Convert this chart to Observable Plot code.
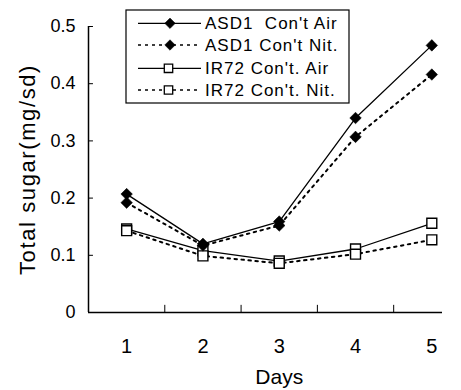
<!DOCTYPE html>
<html>
<head>
<meta charset="utf-8">
<script src="https://cdn.jsdelivr.net/npm/d3@7"></script>
<script src="https://cdn.jsdelivr.net/npm/@observablehq/plot@0.6"></script>
<style>
  html, body { margin: 0; padding: 0; background: #fff; }
  #chart { width: 461px; height: 390px; position: relative; }
</style>
</head>
<body>
<div id="chart"></div>
<script>
const days = [1, 2, 3, 4, 5];
const asd1Air = [0.207, 0.120, 0.159, 0.340, 0.467];
const asd1Nit = [0.192, 0.117, 0.152, 0.307, 0.416];
const ir72Air = [0.146, 0.108, 0.090, 0.111, 0.156];
const ir72Nit = [0.143, 0.099, 0.086, 0.102, 0.127];
const seriesNames = ["ASD1  Con't Air", "ASD1 Con't Nit.", "IR72 Con't. Air", "IR72 Con't. Nit."];
const yTicks = [0, 0.1, 0.2, 0.3, 0.4, 0.5];
const xBoundaryTicks = [1.5, 2.5, 3.5, 4.5];

const seriesDefs = [
  {name: seriesNames[0], values: asd1Air, dashed: false, symbol: "diamond2", fill: "black"},
  {name: seriesNames[1], values: asd1Nit, dashed: true, symbol: "diamond2", fill: "black"},
  {name: seriesNames[2], values: ir72Air, dashed: false, symbol: "square", fill: "white"},
  {name: seriesNames[3], values: ir72Nit, dashed: true, symbol: "square", fill: "white"}
];
const table = seriesDefs.map(s => days.map((d, i) => ({day: d, value: s.values[i], series: s.name})));

const FONT = "'Liberation Sans', Arial, Helvetica, sans-serif";
const marks = [];
seriesDefs.forEach((s, k) => {
  marks.push(Plot.line(table[k], {
    x: "day", y: "value", stroke: "black",
    strokeWidth: s.dashed ? 2 : 1.3,
    strokeDasharray: s.dashed ? "2.5,4.5" : null
  }));
});
[2, 3, 0, 1].forEach(k => {
  const s = seriesDefs[k];
  marks.push(Plot.dot(table[k], {
    x: "day", y: "value", symbol: s.symbol,
    r: s.symbol === "square" ? 5.6 : 5.2,
    fill: s.fill, stroke: "black", strokeWidth: s.symbol === "square" ? 1.4 : 0.5
  }));
});

const plot = Plot.plot({
  width: 461,
  height: 390,
  marginLeft: 88,
  marginRight: 19,
  marginTop: 26,
  marginBottom: 78,
  style: {fontFamily: FONT, background: "white", color: "black"},
  x: {domain: [0.5, 5.14]},
  y: {domain: [0, 0.5]},
  marks: [
    Plot.axisY({
      ticks: yTicks, tickSize: 0, tickPadding: 13,
      tickFormat: d => d === 0 ? "0" : d.toFixed(1),
      fontSize: 18, label: null
    }),
    Plot.axisX({
      ticks: days, tickSize: 0, tickPadding: 26,
      tickFormat: d => String(d), fontSize: 20, label: null
    }),
    Plot.ruleY(yTicks, {x1: 0.5, x2: 0.565, stroke: "black", strokeWidth: 1}),
    Plot.ruleX(xBoundaryTicks, {y1: 0, y2: 0.0125, stroke: "black", strokeWidth: 1}),
    Plot.ruleX([0.5], {stroke: "black", strokeWidth: 1.5}),
    Plot.ruleY([0], {stroke: "black", strokeWidth: 1.5}),
    Plot.text(["Total sugar(mg/sd)"], {
      frameAnchor: "left", rotate: -90, dx: -61, fontSize: 22,
      textAnchor: "middle", fill: "black"
    }),
    Plot.text(["Days"], {
      x: 3, frameAnchor: "bottom", dy: 71, fontSize: 21, fill: "black"
    }),
    ...marks
  ]
});

const svg = d3.select(plot);
svg.selectAll("text").filter(function() { return this.textContent === "Total sugar(mg/sd)"; })
   .style("letter-spacing", "1.6px");
const lg = svg.append("g").attr("class", "legend").attr("text-anchor", "start");
lg.append("rect").attr("x", 126).attr("y", 10).attr("width", 223).attr("height", 93)
  .attr("fill", "white").attr("stroke", "black").attr("stroke-width", 1.2);
const rowY = [23.3, 45, 68.3, 90];
seriesDefs.forEach((s, i) => {
  const y = rowY[i];
  lg.append("line").attr("x1", 138).attr("x2", 201).attr("y1", y).attr("y2", y)
    .attr("stroke", "black").attr("stroke-width", s.dashed ? 1.6 : 1.3)
    .attr("stroke-dasharray", s.dashed ? "3,4" : null);
  const sym = s.symbol === "square" ? d3.symbolSquare2 : d3.symbolDiamond2;
  const size = s.symbol === "square" ? 90 : 70;
  lg.append("path").attr("d", d3.symbol(sym, size)())
    .attr("transform", `translate(${s.symbol === "square" ? 168.5 : 170},${y})`)
    .attr("fill", s.fill).attr("stroke", "black").attr("stroke-width", s.symbol === "square" ? 1.3 : 0.5);
  lg.append("text").attr("x", 205).attr("y", y).attr("dy", "0.36em")
    .attr("text-anchor", "start")
    .attr("font-size", 17).attr("font-family", FONT).attr("letter-spacing", "1px")
    .attr("fill", "black").text(s.name);
});

document.getElementById("chart").appendChild(plot);
</script>
</body>
</html>
